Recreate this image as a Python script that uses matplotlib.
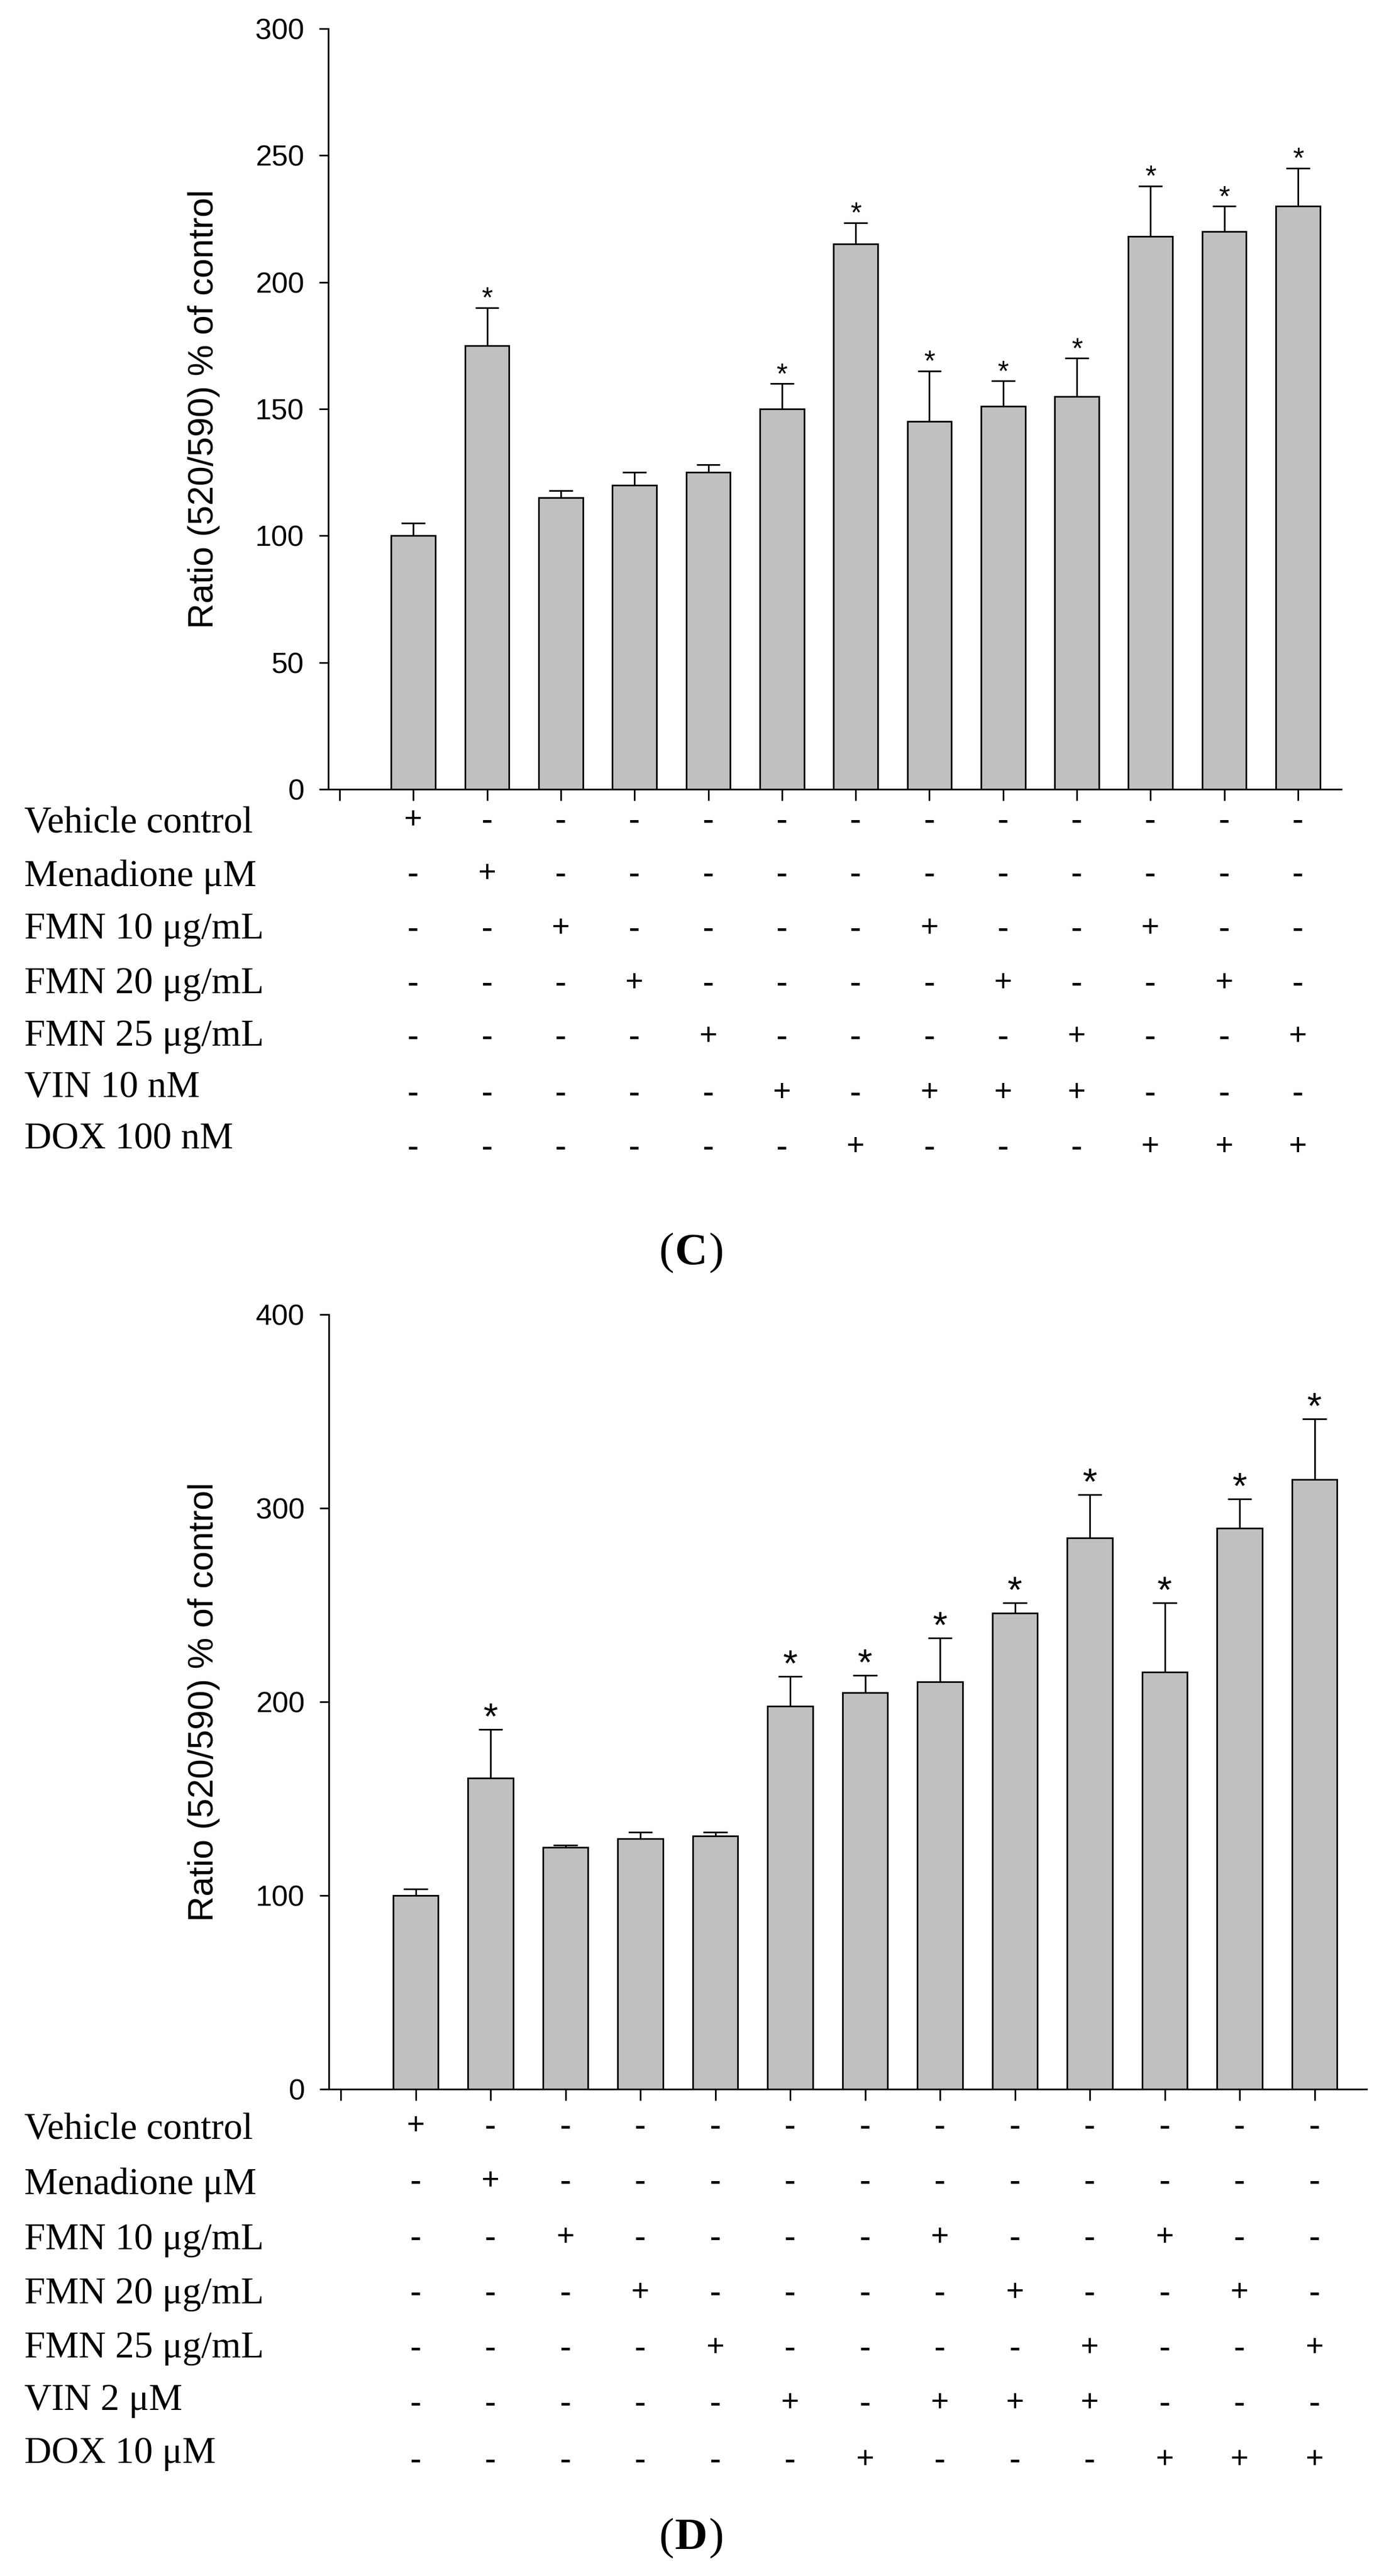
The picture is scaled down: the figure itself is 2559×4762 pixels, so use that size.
import numpy as np
import matplotlib
matplotlib.use("Agg")
import matplotlib.pyplot as plt
from matplotlib import transforms

W, H = 2559, 4762

# treatments (same layout for both panels), 1 = "+"
treat = [
    [1, 0, 0, 0, 0, 0, 0, 0, 0, 0, 0, 0, 0],
    [0, 1, 0, 0, 0, 0, 0, 0, 0, 0, 0, 0, 0],
    [0, 0, 1, 0, 0, 0, 0, 1, 0, 0, 1, 0, 0],
    [0, 0, 0, 1, 0, 0, 0, 0, 1, 0, 0, 1, 0],
    [0, 0, 0, 0, 1, 0, 0, 0, 0, 1, 0, 0, 1],
    [0, 0, 0, 0, 0, 1, 0, 1, 1, 1, 0, 0, 0],
    [0, 0, 0, 0, 0, 0, 1, 0, 0, 0, 1, 1, 1],
]

rows_c = ['Vehicle control', 'Menadione μM', 'FMN 10 μg/mL', 'FMN 20 μg/mL',
          'FMN 25 μg/mL', 'VIN 10 nM', 'DOX 100 nM']
mean_c = [100, 175, 115, 120, 125, 150, 215, 145, 151, 155, 218, 220, 230]
err_c = [5, 15, 2.7, 5, 3, 10, 8.5, 20, 10, 15, 20, 10, 15]
sig_c = [0, 1, 0, 0, 0, 1, 1, 1, 1, 1, 1, 1, 1]

rows_d = ['Vehicle control', 'Menadione μM', 'FMN 10 μg/mL', 'FMN 20 μg/mL',
          'FMN 25 μg/mL', 'VIN 2 μM', 'DOX 10 μM']
mean_d = [100, 160.6, 124.9, 129.3, 130.8, 197.8, 204.8, 210.4, 245.8, 284.7, 215.3, 289.6, 314.7]
err_d = [3.4, 25.2, 1.1, 3.4, 1.9, 15.2, 8.9, 22.6, 5.2, 22.3, 35.7, 15.2, 31.3]
sig_d = [0, 1, 0, 0, 0, 1, 1, 1, 1, 1, 1, 1, 1]

SANS = ['Liberation Sans', 'DejaVu Sans']
SERIF = ['Liberation Serif', 'DejaVu Serif']

fig = plt.figure(figsize=(W / 100, H / 100), dpi=100)


def fy(p):
    return 1 - p / H


def panel(px, means, errs, sig, ymax, ystep, rows, lab_y, sym_y, cap_y, cap, star_fs):
    # px: left, right, top, bottom of the axes, x pixel of tick 0, pixels per slot
    left, right, top, bottom, tick0, step = px
    ax = fig.add_axes([left / W, fy(bottom), (right - left) / W, (bottom - top) / H])
    x = np.arange(1, len(means) + 1)
    means = np.array(means)
    errs = np.array(errs)

    ax.bar(x, means, width=0.6, color='#c0c0c0', edgecolor='black', linewidth=2.2, zorder=3)
    ax.vlines(x, means, means + errs, color='black', linewidth=2.2, zorder=2)
    ax.hlines(means + errs, x - 0.16, x + 0.16, color='black', linewidth=2.2, zorder=2)
    for xi, m, e, s in zip(x, means, errs, sig):
        if s:
            ax.annotate('*', (xi, m + e), xytext=(0, 1), textcoords='offset points',
                        ha='center', va='baseline', fontsize=star_fs, family=SANS)

    # first tick at 0 has no bar
    ax.set_xlim((left - tick0) / step, (right - tick0) / step)
    ax.set_ylim(0, ymax)
    ax.set_xticks(np.arange(0, len(means) + 1))
    ax.set_xticklabels([])
    ax.set_yticks(np.arange(0, ymax + 1, ystep))
    ax.tick_params(axis='x', direction='out', length=15, width=2.2)
    ax.tick_params(axis='y', direction='out', length=12, width=2.2, labelsize=39, pad=20)
    for lab in ax.get_yticklabels():
        lab.set_family(SANS)
    for side in ['top', 'right']:
        ax.spines[side].set_visible(False)
    for side in ['left', 'bottom']:
        ax.spines[side].set_linewidth(2.2)
    ax.set_ylabel('Ratio (520/590) % of control', fontsize=47, family=SANS, va='center')
    ax.yaxis.set_label_coords((377 - left) / (right - left), 0.5)

    # treatment table under the axis
    tr = transforms.blended_transform_factory(ax.transData, fig.transFigure)
    for i, name in enumerate(rows):
        fig.text(45 / W, fy(lab_y[i]), name, fontsize=50, family=SERIF, ha='left', va='center')
        for j, on in enumerate(treat[i]):
            ax.text(x[j], fy(sym_y[i]), '+' if on else '-', transform=tr, fontsize=43,
                    family=SERIF, weight='bold', ha='center', va='center', clip_on=False)

    # caption "(C)" / "(D)"
    cx = 1278
    fig.text(cx / W, fy(cap_y), cap, fontsize=60, family=SERIF, weight='bold', ha='center', va='center')
    fig.text((cx - 32) / W, fy(cap_y), '(', fontsize=60, family=SERIF, ha='right', va='center')
    fig.text((cx + 32) / W, fy(cap_y), ')', fontsize=60, family=SERIF, ha='left', va='center')
    return ax


lab_c = [1522, 1621, 1718, 1819, 1916, 2011, 2107]
sym_c = [1518, 1617, 1718, 1819, 1918, 2022, 2122]
panel((607, 2480, 53, 1459, 628, 136.3), mean_c, err_c, sig_c, 300, 50, rows_c,
      lab_c, sym_c, 2317, 'C', 38)

lab_d = [3937, 4039, 4141, 4241, 4341, 4438, 4536]
sym_d = [3932, 4034, 4138, 4240, 4342, 4444, 4549]
panel((608, 2527, 2430, 3862, 630, 138.5), mean_d, err_d, sig_d, 400, 100, rows_d,
      lab_d, sym_d, 4693, 'D', 50)

fig.savefig('out.png', dpi=100, facecolor='white')
